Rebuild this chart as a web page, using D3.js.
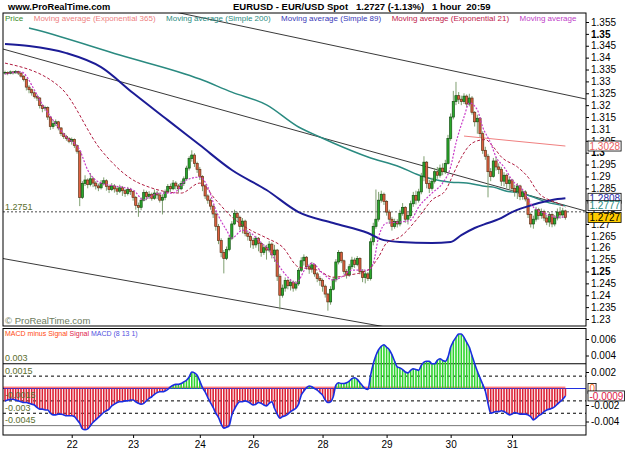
<!DOCTYPE html>
<html>
<head>
<meta charset="utf-8">
<script src="https://cdn.jsdelivr.net/npm/d3@7"></script>
<style>
body { margin: 0; background: #fff; }
text { font-family: "Liberation Sans", Arial, sans-serif; white-space: pre; }
</style>
</head>
<body>
<svg id="chart" width="625" height="469"></svg>
<script>
// hourly EUR/USD candles, open = previous close
const firstOpen = 1.3335;
const closes = [1.3338,1.3333,1.3340,1.3336,1.3342,1.3335,1.3322,1.3308,1.3276,1.3265,1.3252,1.3236,1.3230,1.3198,1.3186,1.3190,1.3150,1.3110,1.3122,1.3130,
1.3104,1.3080,1.3068,1.3060,1.3048,1.3056,1.3030,1.3006,1.2812,1.2870,1.2885,1.2866,1.2890,1.2872,1.2860,1.2852,1.2870,1.2882,1.2858,1.2845,
1.2860,1.2848,1.2838,1.2852,1.2840,1.2828,1.2845,1.2836,1.2812,1.2778,1.2770,1.2800,1.2832,1.2815,1.2825,1.2808,1.2830,1.2822,1.2800,1.2812,
1.2835,1.2858,1.2848,1.2872,1.2860,1.2848,1.2870,1.2890,1.2935,1.2975,1.2990,1.2955,1.2930,1.2900,1.2860,1.2818,1.2800,1.2775,1.2742,1.2690,
1.2630,1.2580,1.2555,1.2592,1.2640,1.2700,1.2745,1.2728,1.2690,1.2712,1.2660,1.2648,1.2630,1.2612,1.2640,1.2618,1.2580,1.2600,1.2590,1.2615,
1.2570,1.2590,1.2480,1.2400,1.2430,1.2462,1.2440,1.2455,1.2430,1.2448,1.2505,1.2545,1.2560,1.2520,1.2510,1.2528,1.2490,1.2470,1.2462,1.2438,
1.2405,1.2372,1.2425,1.2465,1.2540,1.2580,1.2545,1.2500,1.2485,1.2520,1.2548,1.2530,1.2555,1.2500,1.2475,1.2490,1.2470,1.2625,1.2690,1.2720,
1.2800,1.2825,1.2795,1.2750,1.2720,1.2690,1.2710,1.2700,1.2745,1.2770,1.2720,1.2735,1.2785,1.2820,1.2800,1.2835,1.2900,1.2960,1.2870,1.2850,
1.2880,1.2920,1.2905,1.2935,1.2920,1.2955,1.3060,1.3150,1.3215,1.3240,1.3225,1.3215,1.3238,1.3205,1.3230,1.3170,1.3130,1.3145,1.3080,1.3010,
1.2985,1.2920,1.2900,1.2965,1.2940,1.2930,1.2880,1.2905,1.2870,1.2885,1.2850,1.2835,1.2860,1.2815,1.2835,1.2805,1.2740,1.2700,1.2720,1.2760,
1.2735,1.2752,1.2725,1.2708,1.2740,1.2700,1.2725,1.2750,1.2738,1.2755,1.2727];
const highs = [1.3345,1.3342,1.3346,1.3344,1.3348,1.3345,1.3338,1.3326,1.3312,1.3284,1.3270,1.3258,1.3246,1.3234,1.3204,1.3198,1.3195,1.3155,1.3135,1.3140,
1.3134,1.3108,1.3084,1.3075,1.3066,1.3064,1.3060,1.3034,1.3010,1.2880,1.2905,1.2892,1.2914,1.2898,1.2880,1.2870,1.2885,1.2896,1.2888,1.2865,
1.2872,1.2868,1.2856,1.2865,1.2860,1.2848,1.2856,1.2852,1.2840,1.2818,1.2790,1.2812,1.2845,1.2840,1.2838,1.2832,1.2845,1.2840,1.2830,1.2825,
1.2845,1.2868,1.2870,1.2885,1.2880,1.2868,1.2882,1.2900,1.2945,1.2985,1.3010,1.2998,1.2962,1.2940,1.2905,1.2868,1.2825,1.2808,1.2782,1.2748,
1.2700,1.2640,1.2590,1.2605,1.2652,1.2712,1.2760,1.2752,1.2735,1.2725,1.2718,1.2672,1.2660,1.2642,1.2650,1.2645,1.2625,1.2615,1.2612,1.2628,
1.2622,1.2612,1.2595,1.2490,1.2445,1.2475,1.2470,1.2468,1.2462,1.2460,1.2515,1.2560,1.2572,1.2565,1.2530,1.2540,1.2530,1.2498,1.2480,1.2470,
1.2445,1.2410,1.2438,1.2476,1.2552,1.2590,1.2585,1.2550,1.2510,1.2532,1.2562,1.2558,1.2565,1.2560,1.2510,1.2505,1.2498,1.2640,1.2705,1.2845,
1.2835,1.2840,1.2832,1.2800,1.2760,1.2730,1.2722,1.2720,1.2760,1.2788,1.2775,1.2750,1.2798,1.2835,1.2840,1.2848,1.2915,1.2985,1.2965,1.2885,
1.2895,1.2935,1.2940,1.2950,1.2955,1.2970,1.3075,1.3165,1.3260,1.3298,1.3255,1.3240,1.3250,1.3245,1.3248,1.3238,1.3175,1.3160,1.3150,1.3090,
1.3025,1.2995,1.2935,1.2978,1.2982,1.2955,1.2940,1.2918,1.2912,1.2898,1.2890,1.2865,1.2872,1.2865,1.2848,1.2842,1.2810,1.2748,1.2735,1.2772,
1.2768,1.2765,1.2760,1.2738,1.2750,1.2745,1.2738,1.2765,1.2772,1.2768,1.2760];
const lows = [1.3328,1.3326,1.3330,1.3329,1.3333,1.3327,1.3316,1.3300,1.3262,1.3250,1.3240,1.3228,1.3218,1.3186,1.3170,1.3175,1.3138,1.3096,1.3100,1.3112,
1.3094,1.3070,1.3058,1.3050,1.3040,1.3034,1.3020,1.2996,1.2775,1.2805,1.2860,1.2850,1.2858,1.2855,1.2845,1.2838,1.2845,1.2862,1.2840,1.2830,
1.2838,1.2832,1.2822,1.2830,1.2818,1.2814,1.2820,1.2822,1.2798,1.2760,1.2730,1.2758,1.2795,1.2800,1.2805,1.2798,1.2802,1.2805,1.2790,1.2740,
1.2800,1.2830,1.2835,1.2842,1.2845,1.2832,1.2842,1.2860,1.2885,1.2925,1.2962,1.2940,1.2915,1.2885,1.2838,1.2805,1.2785,1.2760,1.2725,1.2672,
1.2615,1.2560,1.2492,1.2548,1.2585,1.2632,1.2695,1.2710,1.2675,1.2660,1.2648,1.2630,1.2600,1.2595,1.2600,1.2585,1.2562,1.2570,1.2550,1.2580,
1.2555,1.2540,1.2460,1.2340,1.2390,1.2415,1.2425,1.2420,1.2415,1.2420,1.2440,1.2498,1.2525,1.2508,1.2490,1.2495,1.2478,1.2455,1.2440,1.2415,
1.2390,1.2335,1.2360,1.2420,1.2455,1.2530,1.2535,1.2488,1.2470,1.2478,1.2510,1.2515,1.2522,1.2488,1.2455,1.2450,1.2460,1.2462,1.2610,1.2680,
1.2710,1.2790,1.2780,1.2735,1.2700,1.2672,1.2680,1.2685,1.2690,1.2735,1.2705,1.2698,1.2725,1.2772,1.2782,1.2790,1.2825,1.2880,1.2850,1.2830,
1.2840,1.2870,1.2890,1.2895,1.2905,1.2910,1.2950,1.3050,1.3140,1.3200,1.3205,1.3200,1.3205,1.3192,1.3195,1.3160,1.3110,1.3080,1.3065,1.2995,
1.2970,1.2812,1.2880,1.2895,1.2925,1.2910,1.2860,1.2858,1.2850,1.2845,1.2838,1.2815,1.2805,1.2800,1.2802,1.2795,1.2725,1.2685,1.2680,1.2710,
1.2718,1.2722,1.2712,1.2695,1.2688,1.2686,1.2690,1.2715,1.2722,1.2725,1.2718];

// moving averages as [bar, price]
const ema365 = [[172,1.3070],[190,1.3050],[210,1.3028]];
const sma200 = [[9,1.3525],[12,1.3516],[43,1.3411],[73,1.3310],[85,1.3255],[98,1.3201],[110,1.3108],[118,1.3066],[123,1.3041],[136,1.2982],[148,1.2940],[155,1.2906],[160,1.2889],[167,1.2876],[173,1.2872],[179,1.2860],[183,1.2855],[188,1.2838],[193,1.2830],[198,1.2813],[203,1.2792],[210,1.2777]];
const sma89 = [[0,1.3457],[9,1.3449],[23,1.3419],[36,1.3360],[48,1.3251],[61,1.3137],[73,1.3032],[85,1.2927],[98,1.2843],[110,1.2750],[123,1.2704],[136,1.2662],[142,1.2632],[148,1.2624],[160,1.2620],[167,1.2624],[171,1.2653],[176,1.2683],[181,1.2704],[185,1.2720],[190,1.2750],[195,1.2771],[200,1.2788],[205,1.2801],[210,1.2808]];
const ema21 = [[0,1.3377],[21,1.3272],[36,1.3011],[48,1.2885],[54,1.2855],[66,1.2830],[73,1.2872],[79,1.2801],[85,1.2729],[92,1.2674],[98,1.2641],[104,1.2603],[110,1.2519],[117,1.2506],[123,1.2476],[129,1.2485],[136,1.2506],[140,1.2561],[143,1.2620],[148,1.2645],[155,1.2729],[160,1.2801],[165,1.2840],[168,1.2910],[171,1.2980],[174,1.3030],[177,1.3050],[180,1.3055],[183,1.3024],[186,1.2982],[192,1.2940],[196,1.2897],[200,1.2830],[207,1.2788],[210,1.2771]];
const maShort = [[0,1.3331],[6,1.3340],[11,1.3264],[13,1.3222],[18,1.3137],[23,1.3066],[28,1.3011],[31,1.2927],[36,1.2872],[39,1.2864],[48,1.2843],[52,1.2801],[54,1.2813],[58,1.2830],[63,1.2830],[68,1.2885],[73,1.2897],[76,1.2855],[79,1.2759],[83,1.2674],[85,1.2641],[89,1.2674],[92,1.2662],[96,1.2620],[99,1.2590],[102,1.2535],[106,1.2476],[109,1.2451],[113,1.2519],[115,1.2535],[119,1.2493],[123,1.2464],[126,1.2476],[130,1.2506],[136,1.2506],[138,1.2535],[140,1.2645],[143,1.2704],[148,1.2708],[152,1.2716],[155,1.2771],[160,1.2830],[164,1.2872],[167,1.2940],[169,1.3041],[172,1.3150],[174,1.3209],[177,1.3180],[179,1.3108],[182,1.3041],[184,1.2982],[187,1.2940],[190,1.2885],[194,1.2843],[198,1.2771],[202,1.2746],[207,1.2729],[210,1.2729]];
const trendLines = [
  [[-1,1.3437],[218,1.2753]],
  [[60,1.3601],[218,1.3225]],
  [[-1,1.2555],[218,1.2115]]
];
const prevClose = 1.2751;

// MACD (8 13 1), one value per bar
const macd = [-0.0015,-0.0014,-0.0013,-0.0013,-0.0014,-0.0015,-0.0016,-0.0017,-0.0017,-0.0018,-0.0019,-0.0020,-0.0023,-0.0025,-0.0025,-0.0026,-0.0026,-0.0030,-0.0032,-0.0032,
-0.0031,-0.0031,-0.0032,-0.0033,-0.0033,-0.0033,-0.0034,-0.0038,-0.0042,-0.0049,-0.0050,-0.0049,-0.0045,-0.0041,-0.0038,-0.0035,-0.0032,-0.0029,-0.0027,-0.0025,
-0.0021,-0.0019,-0.0017,-0.0016,-0.0016,-0.0015,-0.0015,-0.0014,-0.0014,-0.0016,-0.0018,-0.0019,-0.0018,-0.0015,-0.0012,-0.0010,-0.0007,-0.0005,-0.0004,-0.0004,
-0.0003,-0.0001,0.0002,0.0004,0.0005,0.0005,0.0006,0.0008,0.0010,0.0014,0.0020,0.0019,0.0016,0.0009,0.0001,-0.0004,-0.0011,-0.0017,-0.0023,-0.0030,
-0.0035,-0.0043,-0.0048,-0.0047,-0.0045,-0.0032,-0.0025,-0.0019,-0.0016,-0.0016,-0.0015,-0.0016,-0.0018,-0.0020,-0.0019,-0.0017,-0.0018,-0.0020,-0.0021,-0.0018,
-0.0016,-0.0024,-0.0031,-0.0036,-0.0034,-0.0033,-0.0031,-0.0028,-0.0026,-0.0024,-0.0019,-0.0008,-0.0003,0.0001,0.0003,0.0002,0.0000,-0.0002,-0.0005,-0.0008,
-0.0014,-0.0017,-0.0016,-0.0010,0.0004,0.0007,0.0006,0.0006,0.0007,0.0009,0.0012,0.0013,0.0011,0.0007,0.0003,0.0000,-0.0001,0.0016,0.0030,0.0040,
0.0047,0.0051,0.0053,0.0050,0.0047,0.0041,0.0033,0.0026,0.0025,0.0023,0.0020,0.0019,0.0022,0.0024,0.0023,0.0022,0.0028,0.0032,0.0033,0.0033,
0.0030,0.0030,0.0034,0.0036,0.0034,0.0033,0.0038,0.0050,0.0057,0.0062,0.0066,0.0066,0.0062,0.0056,0.0050,0.0040,0.0030,0.0021,0.0013,0.0005,
-0.0003,-0.0018,-0.0030,-0.0029,-0.0028,-0.0028,-0.0027,-0.0028,-0.0030,-0.0032,-0.0031,-0.0029,-0.0030,-0.0031,-0.0031,-0.0031,-0.0032,-0.0034,-0.0038,-0.0036,
-0.0033,-0.0031,-0.0028,-0.0026,-0.0025,-0.0024,-0.0022,-0.0019,-0.0016,-0.0013,-0.0009];
const macdLevels = [0.003, 0.0015, -0.0015, -0.003, -0.0045];
const macdTicks = [0.006, 0.004, 0.002, -0.002, -0.004];

const priceTicks = [1.355,1.35,1.345,1.34,1.335,1.33,1.325,1.32,1.315,1.31,1.305,1.3,1.295,1.29,1.285,1.28,1.275,1.27,1.265,1.26,1.255,1.25,1.245,1.24,1.235,1.23];
const boldTicks = [1.35, 1.3, 1.25];
const dayLabels = ["22","23","24","26","28","29","30","31"];
const dayBars = [25, 48, 73, 93, 119, 143, 167, 190];

const legendTexts = ["Price","Moving average (Exponential 365)","Moving average (Simple 200)","Moving average (Simple 89)","Moving average (Exponential 21)","Moving average"];
const legendColors = ["#3b8a2a","#ee7f7f","#2a8c82","#3838b8","#c0204a","#c040c8"];

const svg = d3.select("#chart");
const L = 3, R = 586, pTop = 13, pBot = 326, mTop = 328.5, mBot = 435;

const x = d3.scaleLinear().domain([0, closes.length - 1]).range([5, 565.4]);
const y = d3.scaleLinear().domain([1.23, 1.355]).range([319, 22]);
const ym = d3.scaleLinear().domain([-0.004, 0.006]).range([421.5, 339]);

const defs = svg.append("defs");
defs.append("clipPath").attr("id", "pclip").append("rect")
  .attr("x", L).attr("y", pTop).attr("width", R - L).attr("height", pBot - pTop);
defs.append("clipPath").attr("id", "mclip").append("rect")
  .attr("x", L).attr("y", mTop).attr("width", R - L).attr("height", mBot - mTop);

// titles
svg.append("text").attr("x", 8).attr("y", 10).attr("font-size", 9.3).attr("font-weight", "bold")
  .text("www.ProRealTime.com");
svg.append("text").attr("x", 233).attr("y", 10).attr("font-size", 9.5).attr("font-weight", "bold")
  .text("EURUSD - EUR/USD Spot   1.2727 (-1.13%)   1 hour  20:59");

// ---- price panel
const pg = svg.append("g").attr("clip-path", "url(#pclip)");

pg.selectAll("line.trend").data(trendLines).join("line")
  .attr("x1", d => x(d[0][0])).attr("y1", d => y(d[0][1]))
  .attr("x2", d => x(d[1][0])).attr("y2", d => y(d[1][1]))
  .attr("stroke", "#222").attr("stroke-width", 0.9);

pg.append("line").attr("x1", L).attr("x2", R).attr("y1", y(prevClose)).attr("y2", y(prevClose))
  .attr("stroke", "#888").attr("stroke-width", 1.5).attr("stroke-dasharray", "2,2");

const line = d3.line().x(d => x(d[0])).y(d => y(d[1])).curve(d3.curveMonotoneX);

pg.append("path").attr("d", line(sma200)).attr("fill", "none").attr("stroke", "#2a8a80").attr("stroke-width", 1.5);
pg.append("path").attr("d", line(ema365)).attr("fill", "none").attr("stroke", "#f08080").attr("stroke-width", 1);

const opens = closes.map((c, i) => i ? closes[i - 1] : firstOpen);
pg.selectAll("line.wick").data(closes).join("line")
  .attr("x1", (d, i) => x(i)).attr("x2", (d, i) => x(i))
  .attr("y1", (d, i) => y(highs[i])).attr("y2", (d, i) => y(lows[i]))
  .attr("stroke", "#7f9f70").attr("stroke-width", 1);
pg.selectAll("rect.body").data(closes).join("rect")
  .attr("x", (d, i) => x(i) - 1.1).attr("width", 2.2)
  .attr("y", (d, i) => y(Math.max(d, opens[i])))
  .attr("height", (d, i) => Math.max(0.8, Math.abs(y(d) - y(opens[i]))))
  .attr("fill", (d, i) => d >= opens[i] ? "#2aa82a" : "#e0603f")
  .attr("stroke", (d, i) => d >= opens[i] ? "#145214" : "#5e3418")
  .attr("stroke-width", 0.7);

pg.append("path").attr("d", line(sma89)).attr("fill", "none").attr("stroke", "#1c1c96").attr("stroke-width", 2);
pg.append("path").attr("d", line(ema21)).attr("fill", "none").attr("stroke", "#b01c40").attr("stroke-width", 1).attr("stroke-dasharray", "3,2");
pg.append("path").attr("d", line(maShort)).attr("fill", "none").attr("stroke", "#c83cc8").attr("stroke-width", 1.2).attr("stroke-dasharray", "2,1.5");

svg.append("rect").attr("x", L).attr("y", pTop).attr("width", R - L).attr("height", pBot - pTop)
  .attr("fill", "none").attr("stroke", "#000");

// legend
let lx = 5;
legendTexts.forEach((t, i) => {
  const tx = svg.append("text").attr("x", lx).attr("y", 21).attr("font-size", 8)
    .attr("fill", legendColors[i]).text(t);
  lx += tx.node().getComputedTextLength() + 10.5;
});

svg.append("text").attr("x", 5).attr("y", 210).attr("font-size", 9).attr("fill", "#5a6e2e").text("1.2751");
svg.append("text").attr("x", 5).attr("y", 324).attr("font-size", 9.5).attr("fill", "#6c7a5c").text("© ProRealTime.com");

// price axis
const pax = svg.append("g").attr("transform", `translate(${R},0)`)
  .call(d3.axisRight(y).tickValues(priceTicks).tickSize(3).tickPadding(2).tickFormat(d => String(+d.toFixed(3))));
pax.select(".domain").remove();
pax.selectAll("text").attr("font-size", 10).attr("font-family", "Liberation Sans, Arial, sans-serif")
  .attr("font-weight", d => boldTicks.includes(d) ? "bold" : "normal");

function valueBox(v, txt, color, bg, sc) {
  const yc = sc(v);
  const g = svg.append("g");
  const r = g.append("rect").attr("x", 588).attr("y", yc - 5).attr("height", 10)
    .attr("fill", bg).attr("stroke", "#000").attr("stroke-width", 0.8);
  const t = g.append("text").attr("x", 589.5).attr("y", yc + 3.6).attr("font-size", 10).attr("fill", color).text(txt);
  r.attr("width", t.node().getComputedTextLength() + 2.5);
}
valueBox(1.3028, "1.3028", "#e86060", "#fff", y);
valueBox(1.2808, "1.2808", "#2a2aa8", "#fff", y);
valueBox(1.2777, "1.2777", "#2a8a80", "#fff", y);
valueBox(1.2727, "1.2727", "#000", "#ffcc00", y);

// ---- MACD panel
const mg = svg.append("g").attr("clip-path", "url(#mclip)");

mg.selectAll("line.level").data(macdLevels).join("line")
  .attr("x1", L).attr("x2", R).attr("y1", d => ym(d)).attr("y2", d => ym(d))
  .attr("stroke", (d, i) => i === 4 ? "#777" : "#000")
  .attr("stroke-width", (d, i) => i === 0 ? 1.2 : 1)
  .attr("stroke-dasharray", (d, i) => (i === 0 || i === 4) ? null : "3,3");

mg.append("line").attr("x1", L).attr("x2", R).attr("y1", ym(0)).attr("y2", ym(0))
  .attr("stroke", "#2030e0").attr("stroke-width", 1);
mg.append("line").attr("x1", L).attr("x2", x(macd.length - 1)).attr("y1", ym(0) - 1.3).attr("y2", ym(0) - 1.3)
  .attr("stroke", "#ff4040").attr("stroke-width", 1);

mg.selectAll("rect.hist").data(macd).join("rect")
  .attr("x", (d, i) => x(i) - 0.8).attr("width", 1.6)
  .attr("y", d => Math.min(ym(d), ym(0)))
  .attr("height", d => Math.abs(ym(d) - ym(0)))
  .attr("fill", d => d >= 0 ? "#2ed42e" : "#dc2236");

mg.append("path").datum(macd)
  .attr("d", d3.line().x((d, i) => x(i)).y(d => ym(d)).curve(d3.curveMonotoneX))
  .attr("fill", "none").attr("stroke", "#1a2ee0").attr("stroke-width", 1.6);

const lvlNames = ["0.003", "0.0015", "-0.0015", "-0.003", "-0.0045"];
svg.selectAll("text.lvl").data(macdLevels).join("text")
  .attr("x", 5).attr("y", d => ym(d) - 2.5).attr("font-size", 9).attr("fill", "#5a6e2e")
  .text((d, i) => lvlNames[i]);

svg.append("rect").attr("x", L).attr("y", mTop).attr("width", R - L).attr("height", mBot - mTop)
  .attr("fill", "none").attr("stroke", "#000");

const mleg = svg.append("text").attr("x", 5).attr("y", 336).attr("font-size", 7);
mleg.append("tspan").attr("fill", "#ff4a10").text("MACD minus Signal ");
mleg.append("tspan").attr("fill", "#e0204a").text("Signal ");
mleg.append("tspan").attr("fill", "#5050e0").text("MACD (8 13 1)");

const max = svg.append("g").attr("transform", `translate(${R},0)`)
  .call(d3.axisRight(ym).tickValues(macdTicks).tickSize(3).tickPadding(2).tickFormat(d => String(d)));
max.select(".domain").remove();
max.selectAll("text").attr("font-size", 10).attr("font-family", "Liberation Sans, Arial, sans-serif");

valueBox(0, "0", "#ff6a10", "#fff", ym);
valueBox(macd[macd.length - 1], "-0.0009", "#e0204a", "#fff", ym);

// day axis
const dax = svg.append("g").attr("transform", `translate(0,${mBot})`)
  .call(d3.axisBottom(x).tickValues(dayBars).tickSize(3).tickPadding(3).tickFormat((d, i) => dayLabels[i]));
dax.select(".domain").remove();
dax.selectAll("text").attr("font-size", 10).attr("font-family", "Liberation Sans, Arial, sans-serif");
</script>
</body>
</html>
